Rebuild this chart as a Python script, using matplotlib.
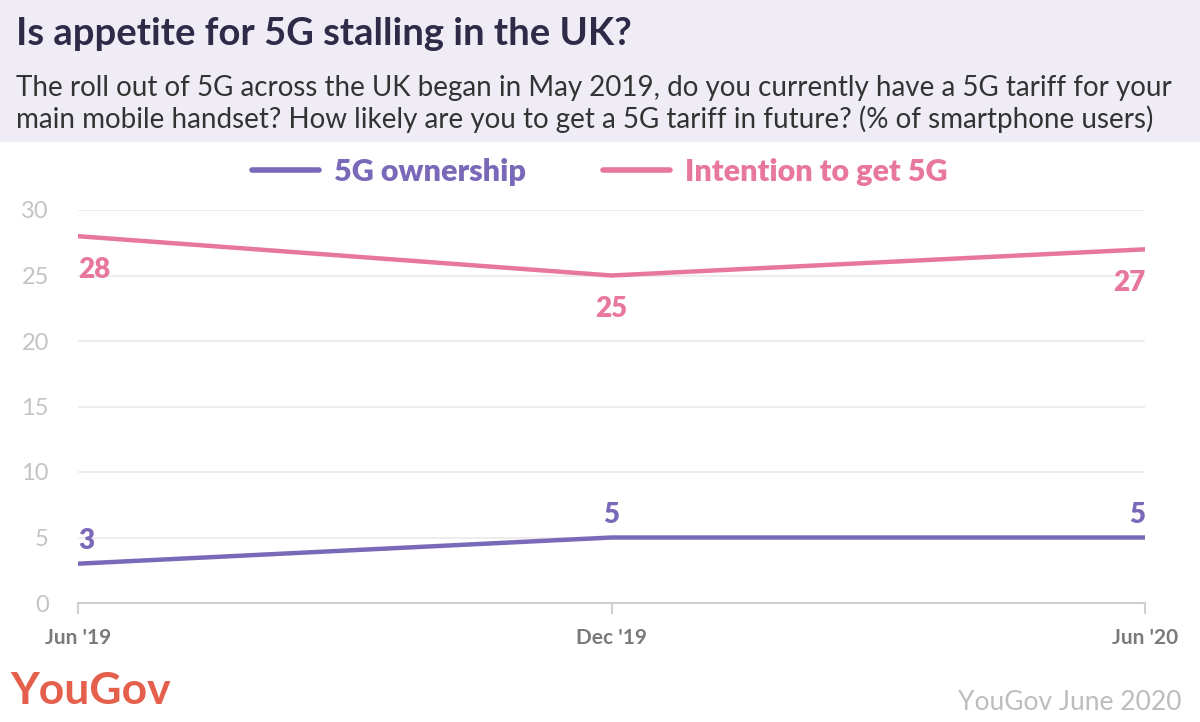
import matplotlib
matplotlib.use("Agg")
import matplotlib.pyplot as plt
from matplotlib.patches import Rectangle
from matplotlib.lines import Line2D

plt.rcParams['font.family'] = ['Lato', 'DejaVu Sans']

dates = ["Jun '19", "Dec '19", "Jun '20"]
ownership = [3, 5, 5]
intention = [28, 25, 27]
yticks = [0, 5, 10, 15, 20, 25, 30]

PURPLE = '#7a69b9'
PINK = '#e8779c'
GRID = '#ececec'

fig = plt.figure(figsize=(12, 7.22), dpi=100)
fig.patches.append(Rectangle((0, 1 - 142/722), 1, 142/722, transform=fig.transFigure,
                             facecolor='#efecf6', edgecolor='none', zorder=0))
fig.text(16/1200, 1 - 34/722, "Is appetite for 5G stalling in the UK?", fontsize=27.5,
         fontweight='bold', color='#2e2a48', va='center', ha='left')
fig.text(16/1200, 1 - 104/722,
         "The roll out of 5G across the UK began in May 2019, do you currently have a 5G tariff for your\n"
         "main mobile handset? How likely are you to get a 5G tariff in future? (% of smartphone users)",
         fontsize=20, color='#333333', va='center', ha='left', linespacing=1.22)

ax = fig.add_axes([78/1200, 119/722, (1145-78)/1200, (603-210)/722])
x = list(range(len(dates)))
ax.plot(x, ownership, color=PURPLE, lw=3.2, solid_capstyle='round', label='5G ownership', zorder=3)
ax.plot(x, intention, color=PINK, lw=3.2, solid_capstyle='round', label='Intention to get 5G', zorder=3)

ax.set_xlim(0, 2)
ax.set_ylim(0, 30)
ax.set_yticks(yticks)
ax.set_xticks(x)
ax.set_xticklabels(dates, fontsize=15, fontweight='bold', color='#7a7a7a')
ax.set_yticklabels([str(v) for v in yticks], fontsize=17, color='#c4c4c4')
for s in ['top', 'right', 'left']:
    ax.spines[s].set_visible(False)
ax.spines['bottom'].set_color('#d0d0d0')
ax.spines['bottom'].set_linewidth(1.5)
ax.tick_params(axis='y', length=0, pad=21)
ax.tick_params(axis='x', length=8, width=1.5, color='#d0d0d0', pad=10)
ax.grid(axis='y', color=GRID, lw=1.3)
ax.set_axisbelow(True)

# value labels
has = ['left', 'center', 'right']
for xi, v, h in zip(x, ownership, has):
    ax.annotate(str(v), (xi, v), xytext=(0, 7), textcoords='offset points', ha=h,
                va='bottom', fontsize=20, fontweight='heavy', color=PURPLE)
for xi, v, h in zip(x, intention, has):
    ax.annotate(str(v), (xi, v), xytext=(0, -15), textcoords='offset points', ha=h,
                va='top', fontsize=20, fontweight='heavy', color=PINK)

handles = [Line2D([], [], color=PURPLE, lw=4, solid_capstyle='round'),
           Line2D([], [], color=PINK, lw=4, solid_capstyle='round')]
leg = fig.legend(handles, ['5G ownership', 'Intention to get 5G'], loc='center',
                 bbox_to_anchor=(0.5, 1 - 172/722), ncol=2, frameon=False, fontsize=22,
                 handlelength=2.2, columnspacing=2.5, handletextpad=0.5)
for t, c in zip(leg.get_texts(), [PURPLE, PINK]):
    t.set_color(c)
    t.set_fontweight('heavy')

fig.text(10/1200, 1 - 691/722, "YouGov", fontsize=32, fontweight='bold', color='#e5604c',
         va='center', ha='left')
fig.text(1182/1200, 1 - 703/722, "YouGov June 2020", fontsize=19, color='#bdbdbd',
         va='center', ha='right')

fig.savefig('out.png', dpi=100)
